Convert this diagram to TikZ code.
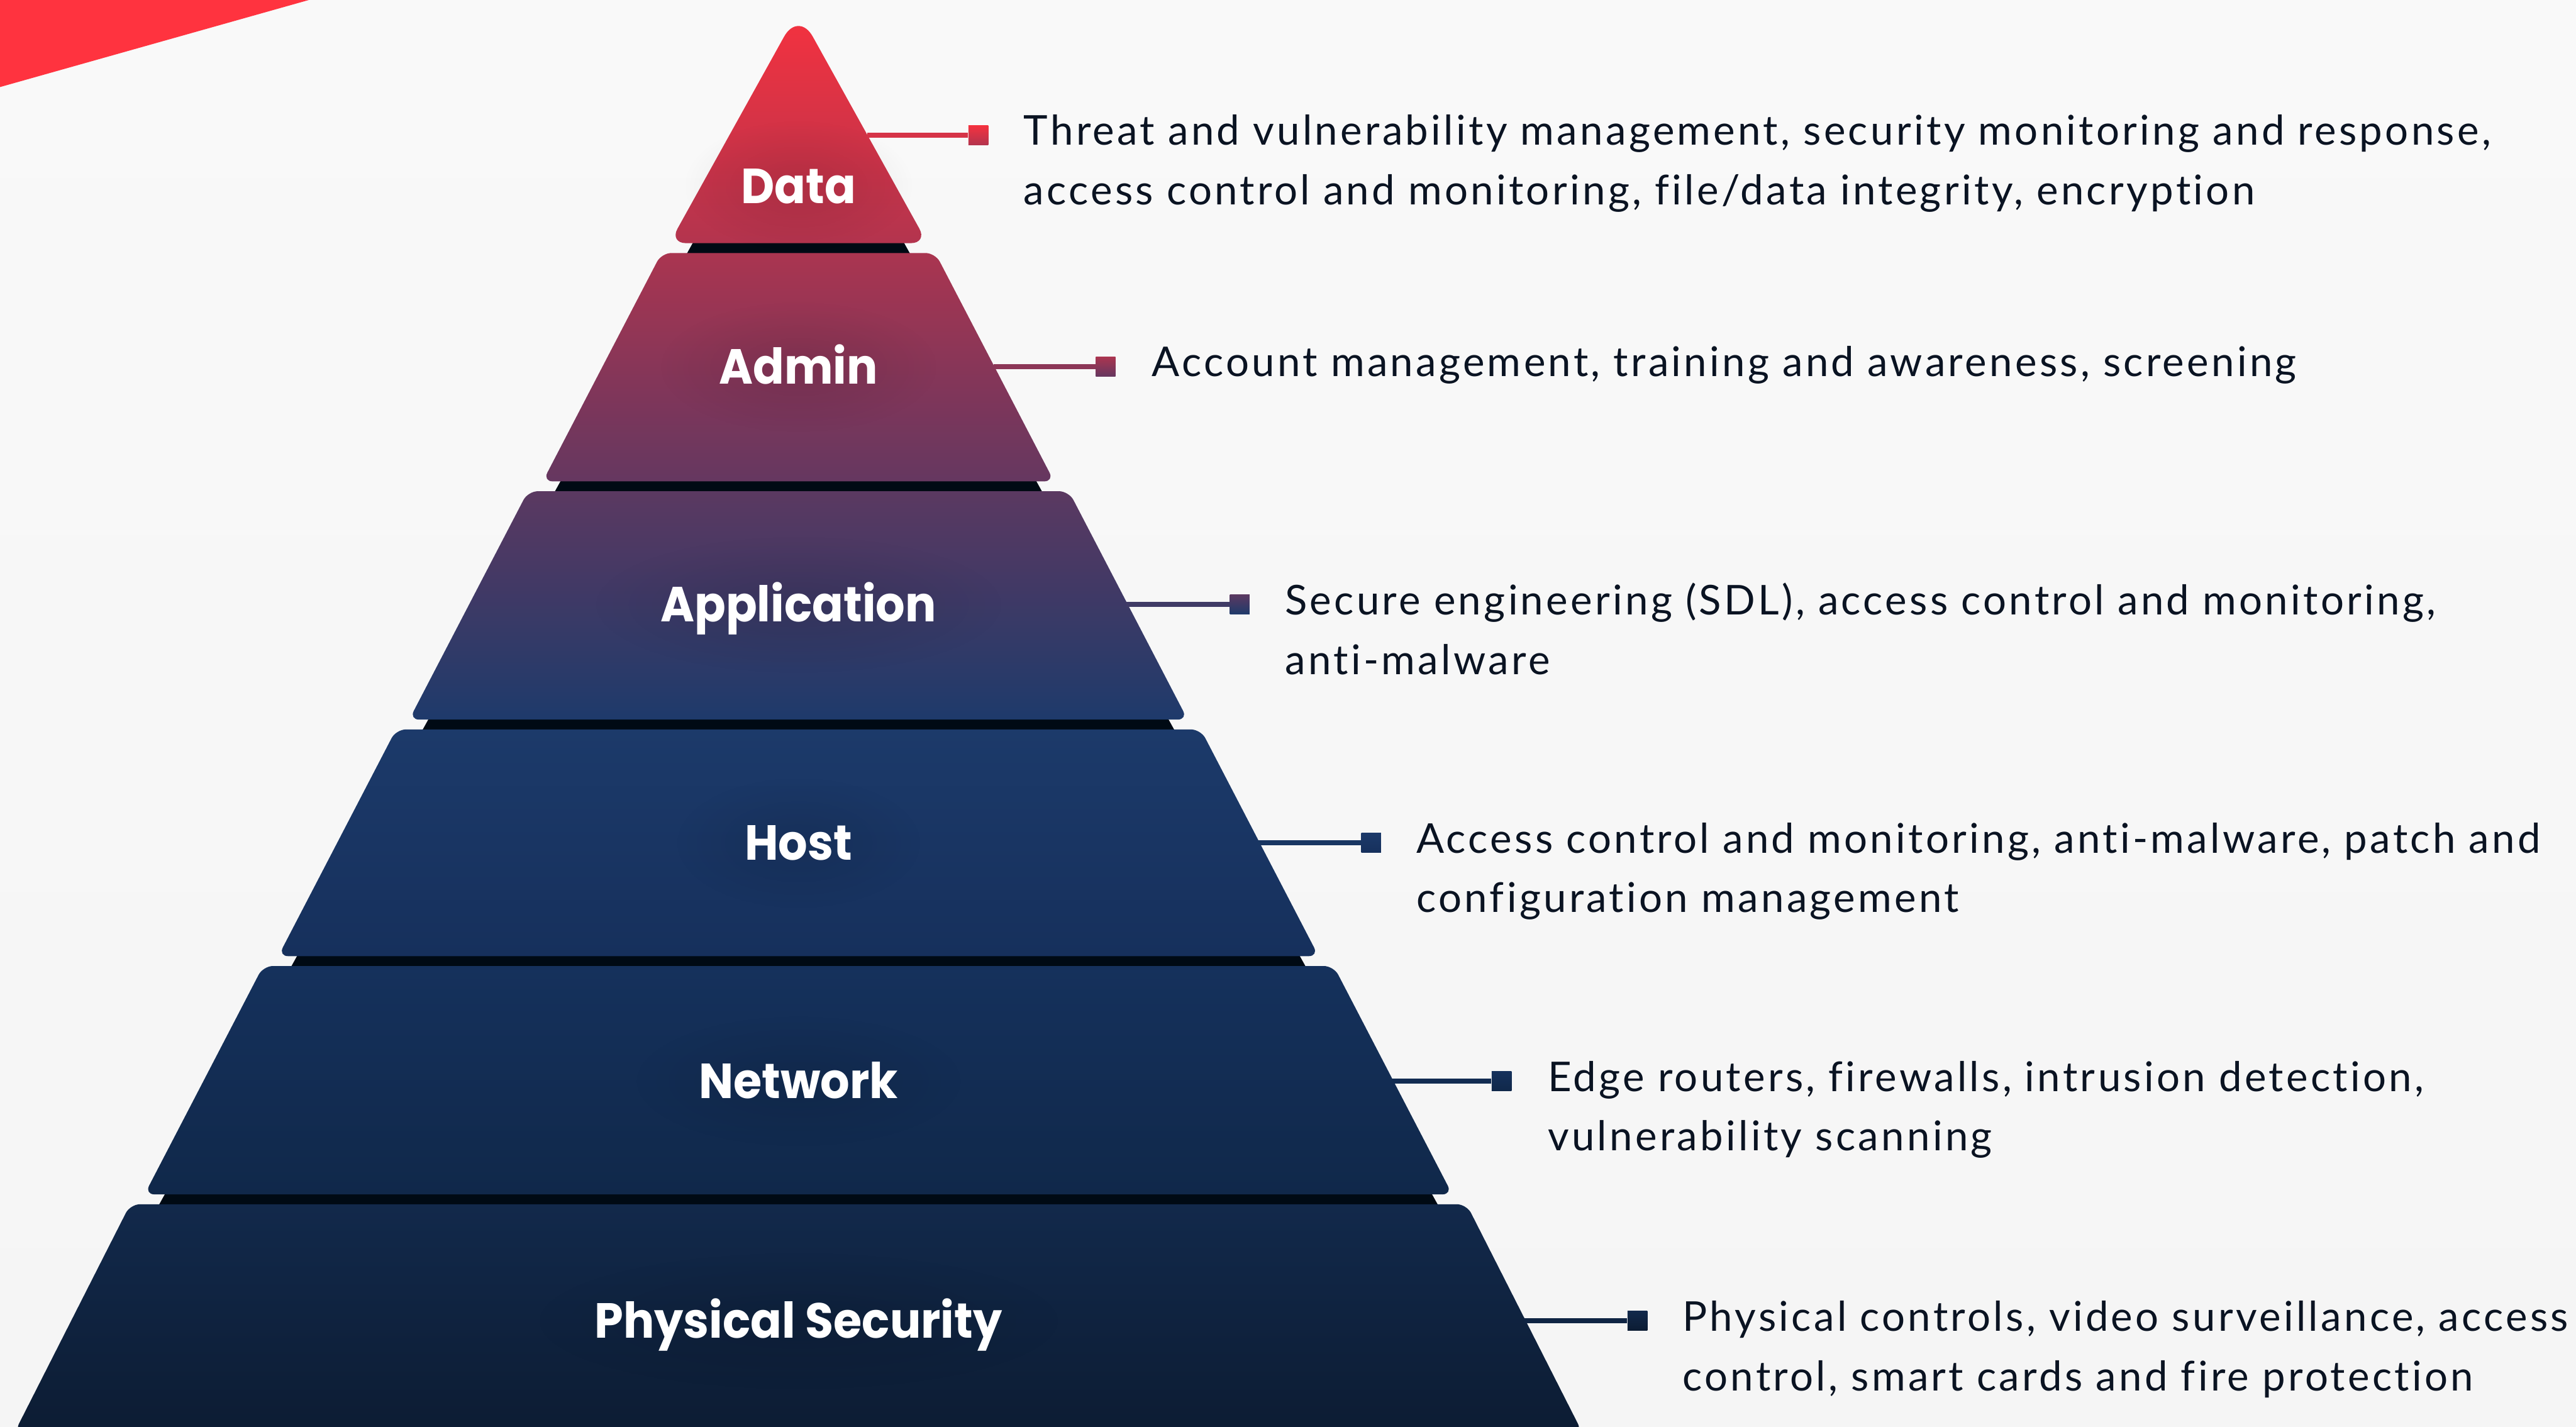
\documentclass[tikz,border=0pt]{standalone}
\usepackage{fontspec}
\setmainfont{Lato}[Ligatures=NoCommon, LetterSpace=6.6]
\newfontfamily\labelfont{Poppins}[FakeStretch=0.935]
\usetikzlibrary{fadings}

\definecolor{bgtop}{HTML}{F9F9F9}
\definecolor{bgbot}{HTML}{F5F5F5}
\definecolor{accent}{HTML}{FF333F}
\definecolor{gapc}{HTML}{000A14}
\definecolor{ink}{HTML}{0A1322}
% layer gradients (top / bottom) and connector tones
\definecolor{dataT}{HTML}{F5323F}\definecolor{dataB}{HTML}{B3344E}\definecolor{dataL}{HTML}{D63448}
\definecolor{admT}{HTML}{AA3550}\definecolor{admB}{HTML}{653760}\definecolor{admL}{HTML}{8C3657}
\definecolor{appT}{HTML}{5B3961}\definecolor{appB}{HTML}{1E3A6B}\definecolor{appL}{HTML}{403B66}
\definecolor{hostT}{HTML}{1C3A6A}\definecolor{hostB}{HTML}{16305C}\definecolor{hostL}{HTML}{193662}
\definecolor{netT}{HTML}{15315C}\definecolor{netB}{HTML}{10284A}\definecolor{netL}{HTML}{122C52}
\definecolor{phyT}{HTML}{12294B}\definecolor{phyB}{HTML}{0C1C33}\definecolor{phyL}{HTML}{0F2443}

\tikzfading[name=softhalo, inner color=transparent!0, outer color=transparent!100]

\tikzset{
  layer/.style 2 args={top color=#1, bottom color=#2, draw=none, rounded corners=6pt},
  layerlabel/.style={text=white, font=\labelfont\bfseries\fontsize{30}{30}\selectfont,
    anchor=base, inner sep=0pt},
  halo/.style={fill=black, opacity=0.10, path fading=softhalo},
  desc/.style={text=ink, font=\fontsize{25}{36}\selectfont, anchor=base west, inner sep=0pt},
  marker/.style 2 args={minimum size=12pt, inner sep=0pt, draw=none, top color=#1, bottom color=#2},
  link/.style={line width=3pt, draw=#1},
}

\begin{document}
\begin{tikzpicture}[x=1pt, y=-1pt]
\useasboundingbox (0,0) rectangle (1568,868.6);
\clip (0,0) rectangle (1568,868.6);

% background and corner accent
\shade[top color=bgtop, bottom color=bgbot] (0,0) rectangle (1568,868.6);
\fill[accent] (0,0) -- (188,0) -- (0,53) -- cycle;

% dark core showing through the gaps between layers
\fill[gapc] (486,32) -- (950.5,869) -- (21.5,869) -- cycle;

% pyramid layers
\shade[layer={dataT}{dataB}] (486,148) [rounded corners=10pt] -- (407.5,148) [rounded corners=18pt] -- (486,6.6) [rounded corners=10pt] -- (564.5,148) -- cycle;
\shade[layer={admT}{admB}] (402.7,154) -- (569.3,154) -- (641.6,293) -- (330.4,293) -- cycle;
\shade[layer={appT}{appB}] (321.4,299) -- (650.6,299) -- (722.9,438) -- (249.1,438) -- cycle;
\shade[layer={hostT}{hostB}] (241.1,444) -- (730.9,444) -- (802.6,582) -- (169.4,582) -- cycle;
\shade[layer={netT}{netB}] (160.2,588) -- (811.8,588) -- (884,727) -- (88,727) -- cycle;
\shade[layer={phyT}{phyB}] (79.3,733) -- (892.7,733) -- (963.2,872) -- (8.8,872) -- cycle;

% soft shadows behind the layer names
\path[halo] (486,113) ellipse [x radius=70pt, y radius=40pt];
\path[halo] (486,223.3) ellipse [x radius=85pt, y radius=40pt];
\path[halo] (486,368) ellipse [x radius=125pt, y radius=42pt];
\path[halo] (486,513) ellipse [x radius=75pt, y radius=40pt];
\path[halo] (486,658) ellipse [x radius=100pt, y radius=40pt];
\path[halo] (486,804) ellipse [x radius=160pt, y radius=42pt];

% layer names
\node[layerlabel] (lData) at (486,124) {Data};
\node[layerlabel] (lAdmin) at (486,233.8) {Admin};
\node[layerlabel] (lApp) at (486,378.6) {Application};
\node[layerlabel] (lHost) at (486,523.6) {Host};
\node[layerlabel] (lNet) at (486,668.6) {Network};
\node[layerlabel] (lPhy) at (486,814.6) {Physical Security};

% connector start points on the layer edges
\coordinate (eData) at (528,82.3);
\coordinate (eAdmin) at (605,223.3);
\coordinate (eApp) at (685.7,368);
\coordinate (eHost) at (765.7,513);
\coordinate (eNet) at (846.8,658);
\coordinate (ePhy) at (928,804);

% end markers
\node[marker={dataT}{dataB}] (mData) at (595.5,82.3) {};
\node[marker={admT}{admB}] (mAdmin) at (673,223.3) {};
\node[marker={appT}{appB}] (mApp) at (754.6,368) {};
\node[marker={hostT}{hostB}] (mHost) at (834.6,513) {};
\node[marker={netT}{netB}] (mNet) at (914,658) {};
\node[marker={phyT}{phyB}] (mPhy) at (996.7,804) {};

\draw[link=dataL] (eData) -- (mData.west);
\draw[link=admL] (eAdmin) -- (mAdmin.west);
\draw[link=appL] (eApp) -- (mApp.west);
\draw[link=hostL] (eHost) -- (mHost.west);
\draw[link=netL] (eNet) -- (mNet.west);
\draw[link=phyL] (ePhy) -- (mPhy.west);

% descriptions
\node[desc] (dData1) at (623,88.3) {Threat and vulnerability management, security monitoring and response,};
\node[desc] (dData2) at (623,124.5) {access control and monitoring, file/data integrity, encryption};
\node[desc] (dAdmin1) at (701,229.3) {Account management, training and awareness, screening};
\node[desc] (dApp1) at (782,374.2) {Secure engineering (SDL), access control and monitoring,};
\node[desc] (dApp2) at (782,410.4) {anti-malware};
\node[desc] (dHost1) at (862,519.2) {Access control and monitoring, anti-malware, patch and};
\node[desc] (dHost2) at (862,555.4) {configuration management};
\node[desc] (dNet1) at (942,664.2) {Edge routers, firewalls, intrusion detection,};
\node[desc] (dNet2) at (942,700.4) {vulnerability scanning};
\node[desc] (dPhy1) at (1024,810.2) {Physical controls, video surveillance, access};
\node[desc] (dPhy2) at (1024,846.4) {control, smart cards and fire protection};
\end{tikzpicture}
\end{document}
